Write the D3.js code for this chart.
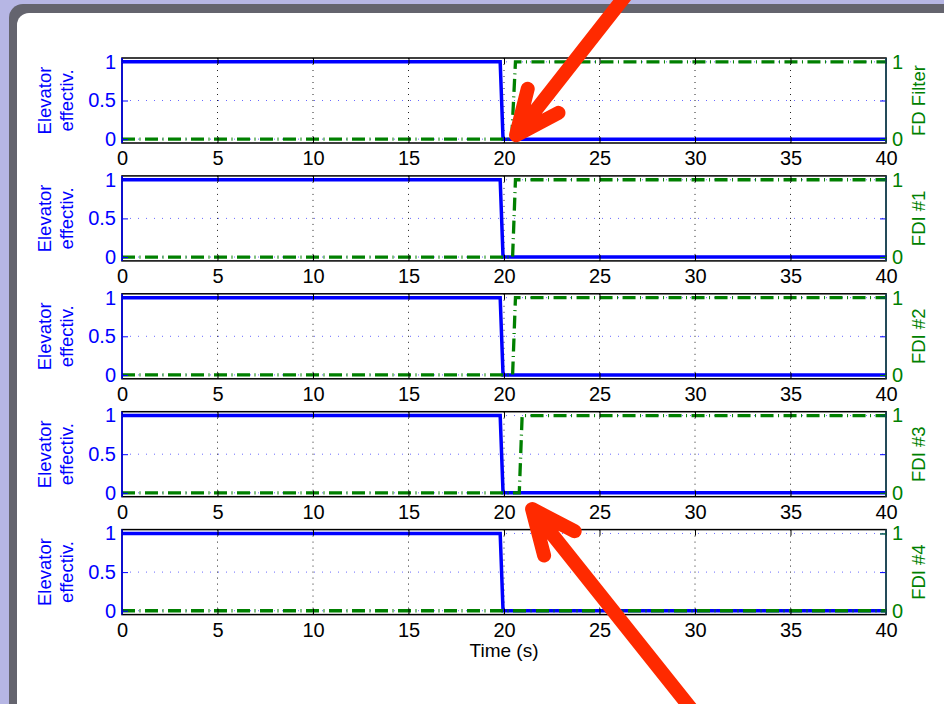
<!DOCTYPE html>
<html>
<head>
<meta charset="utf-8">
<script src="https://cdn.jsdelivr.net/npm/d3@7"></script>
<style>
  body { margin: 0; background: #b6b6e4; }
  svg { display: block; font-family: "Liberation Sans", Arial, sans-serif; }
</style>
</head>
<body>
<script>
//////////////////////////////////////////////
// Data //////////////////////////////////////
//////////////////////////////////////////////
var xTicks = [0, 5, 10, 15, 20, 25, 30, 35, 40];
var leftTicks = [0, 0.5, 1];
var rightTicks = [0, 1];
var leftLabel = ["Elevator", "effectiv."];
var rightLabels = ["FD Filter", "FDI #1", "FDI #2", "FDI #3", "FDI #4"];
var xLabel = "Time (s)";

// elevator effectiveness (same in every panel)
var elevTime = [0, 19.8, 19.95, 40];
var elevValue = [1, 1, 0, 0];

// detection signals, one per panel
var fdFilterTime = [0, 20.4, 20.6, 40];
var fdFilterValue = [0, 0, 1, 1];
var fdi1Time = [0, 20.45, 20.6, 40];
var fdi1Value = [0, 0, 1, 1];
var fdi2Time = [0, 20.45, 20.6, 40];
var fdi2Value = [0, 0, 1, 1];
var fdi3Time = [0, 20.8, 20.95, 40];
var fdi3Value = [0, 0, 1, 1];
var fdi4Time = [0, 40];
var fdi4Value = [0, 0];

// red annotation arrows: tip and tail in panel data units
var arrows = [
  {panel: 0, tipX: 20.63, tipY: 0.05, tailX: 26.5, tailY: 1.9},
  {panel: 3, tipX: 21.47, tipY: -0.21, tailX: 30.3, tailY: -2.95}
];

var detectTimes = [fdFilterTime, fdi1Time, fdi2Time, fdi3Time, fdi4Time];
var detectValues = [fdFilterValue, fdi1Value, fdi2Value, fdi3Value, fdi4Value];

function zip(t, v) { return t.map(function(d, i) { return {t: d, v: v[i]}; }); }

//////////////////////////////////////////////
// Chart Config /////////////////////////////
//////////////////////////////////////////////
var W = 944, H = 704;
var plotLeft = 122, plotRight = 886;
var panelTop0 = 58, panelStep = 117.9, panelH = 85;
var blue = "#0000ff", green = "#008000";

var svg = d3.select("body").append("svg").attr("width", W).attr("height", H);

// slide frame
svg.append("rect").attr("x", 0).attr("y", 0).attr("width", W).attr("height", H).attr("fill", "#b6b6e4");
svg.append("rect").attr("x", 9).attr("y", 4).attr("width", W + 40).attr("height", H + 40)
   .attr("rx", 14).attr("fill", "#64646e");
svg.append("rect").attr("x", 17).attr("y", 13).attr("width", W + 40).attr("height", H + 40)
   .attr("rx", 12).attr("fill", "#ffffff");

var xScale = d3.scaleLinear().domain([0, 40]).range([plotLeft, plotRight]);

var line = d3.line().x(function(d) { return xScale(d.t); });

var yScales = [];

rightLabels.forEach(function(name, i) {
  var top = panelTop0 + i * panelStep;
  var yScale = d3.scaleLinear().domain([-0.05, 1.05]).range([top + panelH, top]);
  yScales.push(yScale);
  line.y(function(d) { return yScale(d.v); });

  var g = svg.append("g");

  // grid lines
  g.append("g").selectAll("line").data(xTicks.slice(1, -1)).enter().append("line")
    .attr("x1", function(d) { return xScale(d); }).attr("x2", function(d) { return xScale(d); })
    .attr("y1", top).attr("y2", top + panelH)
    .attr("stroke", "#222").attr("stroke-width", 1).attr("stroke-dasharray", "1,5");
  g.append("g").selectAll("line").data(leftTicks).enter().append("line")
    .attr("x1", plotLeft).attr("x2", plotRight)
    .attr("y1", function(d) { return yScale(d); }).attr("y2", function(d) { return yScale(d); })
    .attr("stroke", "#6a6aff").attr("stroke-width", 1).attr("stroke-dasharray", "1,7");

  // series
  g.append("path").datum(zip(elevTime, elevValue))
    .attr("d", line).attr("fill", "none").attr("stroke", blue).attr("stroke-width", 3.5);
  g.append("path").datum(zip(detectTimes[i], detectValues[i]))
    .attr("d", line).attr("fill", "none").attr("stroke", green).attr("stroke-width", 3.3)
    .attr("stroke-dasharray", "13,4.5,1,4.5");

  // box
  g.append("rect").attr("x", plotLeft).attr("y", top).attr("width", plotRight - plotLeft).attr("height", panelH)
    .attr("fill", "none").attr("stroke", "#000").attr("stroke-width", 1.5);

  // x axes (bottom with labels, top ticks only)
  var xAxis = d3.axisBottom(xScale).tickValues(xTicks).tickSize(-6).tickPadding(8).tickFormat(d3.format("d"));
  var xAxisEl = g.append("g").attr("transform", "translate(0," + (top + panelH) + ")").call(xAxis);
  xAxisEl.select(".domain").remove();
  xAxisEl.selectAll("line").attr("stroke", "#000");
  xAxisEl.selectAll("text").attr("font-size", 20).attr("fill", "#000");
  var xTop = g.append("g").attr("transform", "translate(0," + top + ")")
    .call(d3.axisTop(xScale).tickValues(xTicks).tickSize(-6).tickFormat(""));
  xTop.select(".domain").remove();

  // left axis
  var yAxis = d3.axisLeft(yScale).tickValues(leftTicks).tickSize(-6).tickPadding(6).tickFormat(d3.format("~g"));
  var yAxisEl = g.append("g").attr("transform", "translate(" + plotLeft + ",0)").call(yAxis);
  yAxisEl.select(".domain").attr("d", "M0," + top + "V" + (top + panelH)).attr("stroke", blue).attr("stroke-width", 1.5);
  yAxisEl.selectAll("line").attr("stroke", blue);
  yAxisEl.selectAll("text").attr("font-size", 20).attr("fill", blue);

  // mirrored left ticks on the right edge
  g.append("g").attr("transform", "translate(" + plotRight + ",0)")
    .call(d3.axisRight(yScale).tickValues(leftTicks).tickSize(-6).tickFormat(""))
    .call(function(s) { s.select(".domain").remove(); s.selectAll("line").attr("stroke", blue); });

  // right axis
  var y2Axis = d3.axisRight(yScale).tickValues(rightTicks).tickSize(-6).tickPadding(6).tickFormat(d3.format("d"));
  var y2El = g.append("g").attr("transform", "translate(" + plotRight + ",0)").call(y2Axis);
  y2El.select(".domain").attr("d", "M0," + top + "V" + (top + panelH)).attr("stroke", "#1b4f63").attr("stroke-width", 1.5);
  y2El.selectAll("line").attr("stroke", green);
  y2El.selectAll("text").attr("font-size", 20).attr("fill", green);

  // axis labels
  var cy = top + panelH / 2;
  g.append("text").attr("transform", "translate(51," + cy + ") rotate(-90)")
    .attr("text-anchor", "middle").attr("font-size", 18.5).attr("fill", blue).text(leftLabel[0]);
  g.append("text").attr("transform", "translate(73," + cy + ") rotate(-90)")
    .attr("text-anchor", "middle").attr("font-size", 18.5).attr("fill", blue).text(leftLabel[1]);
  g.append("text").attr("transform", "translate(925," + cy + ") rotate(-90)")
    .attr("text-anchor", "middle").attr("font-size", 18.5).attr("fill", green).text(name);
});

svg.append("text").attr("x", xScale(20)).attr("y", panelTop0 + 4 * panelStep + panelH + 42)
  .attr("text-anchor", "middle").attr("font-size", 19).attr("fill", "#000").text(xLabel);

//////////////////////////////////////////////
// Arrows ////////////////////////////////////
//////////////////////////////////////////////
arrows.forEach(function(a) {
  var y = yScales[a.panel];
  var tx = xScale(a.tipX), ty = y(a.tipY);
  var sx = xScale(a.tailX), sy = y(a.tailY);
  var ang = Math.atan2(sy - ty, sx - tx);
  var armLen = 48, spread = 24 * Math.PI / 180;
  var p1 = [tx + armLen * Math.cos(ang - spread), ty + armLen * Math.sin(ang - spread)];
  var p2 = [tx + armLen * Math.cos(ang + spread), ty + armLen * Math.sin(ang + spread)];
  var sh = [tx + 8 * Math.cos(ang), ty + 8 * Math.sin(ang)];
  svg.append("path")
    .attr("d", "M" + sx + "," + sy + "L" + sh[0] + "," + sh[1] +
               "M" + p1[0] + "," + p1[1] + "L" + tx + "," + ty + "L" + p2[0] + "," + p2[1])
    .attr("fill", "none").attr("stroke", "#ff2a00").attr("stroke-width", 14)
    .attr("stroke-linecap", "round").attr("stroke-linejoin", "round");
});
</script>
</body>
</html>
